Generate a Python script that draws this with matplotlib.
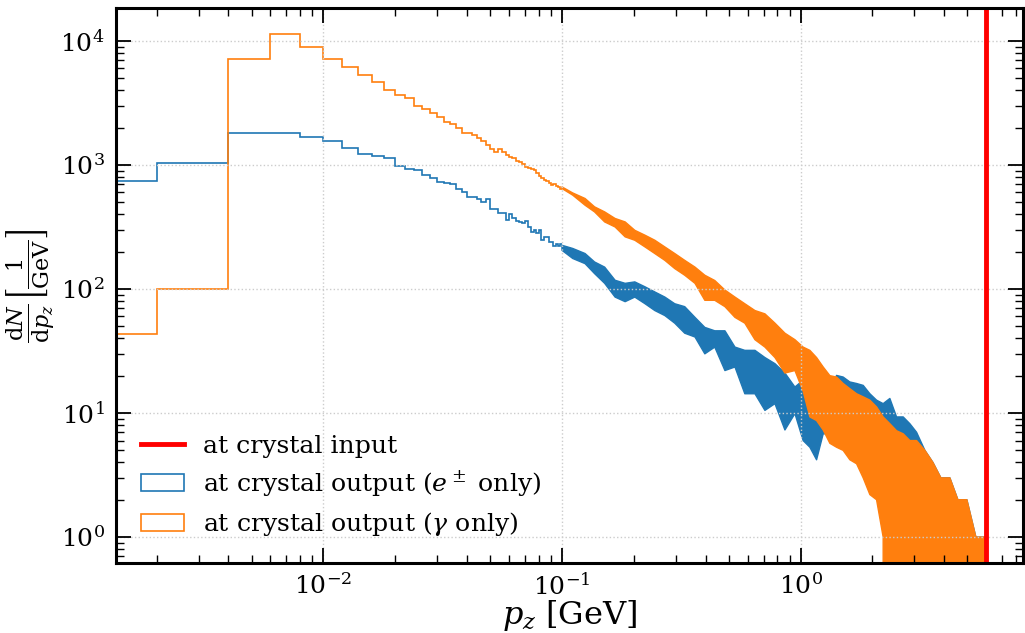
import numpy as np
import matplotlib
matplotlib.use("Agg")
import matplotlib.pyplot as plt
from matplotlib.lines import Line2D
from matplotlib.patches import Patch

# histogram bins of 2 MeV, resolved part (0 - 0.1 GeV)
BIN_WIDTH = 0.002
GAMMA_COUNTS = [43, 100, 7160, 11380, 8850, 7150, 6170, 5290, 4620, 4000,
                3630, 3430, 2990, 2800, 2625, 2438, 2225, 2118, 1988, 1812,
                1812, 1737, 1633, 1562, 1442, 1331, 1273, 1331, 1273, 1197,
                1160, 1127, 1077, 1051, 1013, 964, 946, 929, 906, 861,
                815, 777, 762, 743, 716, 686, 708, 673, 665, 645]
EPM_COUNTS = [740, 1038, 1802, 1802, 1671, 1553, 1381, 1213, 1175, 1133,
              982, 923, 906, 836, 785, 725, 716, 695, 645, 606,
              552, 552, 535, 503, 535, 445, 445, 410, 410, 358,
              400, 370, 352, 347, 341, 352, 316, 288, 301, 283,
              297, 250, 262, 262, 239, 239, 221, 229, 221, 229]

# dense part (> 0.1 GeV): spread of the noisy histogram read column by column
TAIL_PZ = [0.100, 0.111, 0.125, 0.137, 0.151, 0.167, 0.184, 0.202, 0.223, 0.245,
           0.270, 0.297, 0.327, 0.361, 0.397, 0.437, 0.482, 0.531, 0.584, 0.644,
           0.709, 0.781, 0.860, 0.947, 1.025, 1.094, 1.167, 1.244, 1.327, 1.415,
           1.508, 1.609, 1.717, 1.830, 1.952, 2.082, 2.219, 2.367, 2.525, 2.692,
           2.871, 3.063, 3.319, 3.585, 3.873, 4.224, 4.563, 4.977, 5.429, 5.922]
GAMMA_TAIL_HIGH = [665, 594, 536, 459, 418, 370, 347, 297, 271, 247,
                   218, 193, 170, 150, 129, 117, 98, 86, 76, 67,
                   63, 53, 44, 39, 34, 32, 28, 23.5, 20, 19.5,
                   17.3, 15.7, 14.3, 13.5, 12.7, 11.2, 9.3, 8.2, 7.2, 6.8,
                   6, 6, 5, 4, 3, 3, 2, 2, 1, 1]
GAMMA_TAIL_LOW = [645, 570, 473, 418, 347, 316, 263, 247, 218, 193,
                  170, 146, 129, 111, 81, 81, 72, 59, 53, 39,
                  34, 28, 21, 22, 15, 9.3, 8.7, 7.3, 5.7, 5.3,
                  5.0, 4.2, 3.9, 3.0, 2.2, 2.0, 1, 0, 0, 0,
                  0, 0, 0, 0, 0, 0, 0, 0, 0, 0]
EPM_TAIL_HIGH = [225, 212, 193, 165, 150, 117.5, 111, 114, 104, 94.6,
                 86, 76, 72, 59, 49, 46, 46, 34, 32, 32,
                 28, 25, 21, 16.2, 18.4, 18.4, 18.4, 16.2, 14.3, 20.1,
                 19.5, 17.8, 17.3, 16.7, 14.3, 12.7, 11.9, 13.1, 9.3, 9.3,
                 8.2, 7.0, 5, 4, 3, 3, 2, 2, 1, 1]
EPM_TAIL_LOW = [205, 176, 160, 133, 111, 86, 79, 86, 76, 67,
                61, 53, 44, 41, 30, 34, 22, 23.5, 14.3, 14.3,
                10.5, 11.9, 7.3, 9.9, 6, 5.3, 4.2, 6.8, 6.8, 6.4,
                5.3, 4.7, 4.4, 4.2, 3.7, 3.2, 3.0, 4.2, 3.9, 4.2,
                4.2, 3.2, 0, 0, 0, 0, 0, 0, 0, 0]

INPUT_PZ = 6.0  # GeV, beam at crystal input

BLUE = "#1f77b4"
ORANGE = "#ff7f0e"

plt.rcParams["font.family"] = "serif"
plt.rcParams["font.serif"] = ["DejaVu Serif"]
plt.rcParams["mathtext.fontset"] = "dejavuserif"

fig = plt.figure(figsize=(10.25, 6.33), dpi=100)
ax = fig.add_axes([0.113, 0.110, 0.885, 0.878])

edges = np.arange(len(GAMMA_COUNTS) + 1) * BIN_WIDTH

ax.stairs(EPM_COUNTS, edges, baseline=None, color=BLUE, linewidth=1.2)
ax.fill_between(TAIL_PZ, EPM_TAIL_LOW, EPM_TAIL_HIGH, color=BLUE, linewidth=1.0)
ax.stairs(GAMMA_COUNTS, edges, baseline=None, color=ORANGE, linewidth=1.2)
ax.fill_between(TAIL_PZ, GAMMA_TAIL_LOW, GAMMA_TAIL_HIGH, color=ORANGE, linewidth=1.0)
ax.axvline(INPUT_PZ, color="red", linewidth=3.5)

ax.set_xscale("log")
ax.set_yscale("log")
ax.set_xlim(0.00135, 8.55)
ax.set_ylim(0.614, 18530)

ax.grid(True, which="major", linestyle=":", color="#cccccc", linewidth=1.0)
ax.tick_params(which="both", direction="in", top=True, right=True, labelsize=18)
ax.tick_params(which="major", length=11, width=1.3)
ax.tick_params(which="minor", length=5.5, width=1.0)
ax.tick_params(axis="y", pad=8)
ax.tick_params(axis="x", pad=7)
for spine in ax.spines.values():
    spine.set_linewidth(2.2)

ax.set_xlabel(r"$p_z$ [GeV]", fontsize=23, labelpad=-1)
ax.set_ylabel(r"$\frac{\mathrm{d}N}{\mathrm{d}p_z}\left[\frac{1}{\mathrm{GeV}}\right]$",
              fontsize=23)
ax.yaxis.set_label_coords(-0.065, 0.5)

handles = [
    Line2D([], [], color="red", linewidth=3.5),
    Patch(facecolor="none", edgecolor=BLUE, linewidth=1.2),
    Patch(facecolor="none", edgecolor=ORANGE, linewidth=1.2),
]
labels = [
    "at crystal input",
    r"at crystal output ($e^\pm$ only)",
    r"at crystal output ($\gamma$ only)",
]
ax.legend(handles, labels, loc="lower left", frameon=False, fontsize=18.1,
          handlelength=1.72, handletextpad=0.76, labelspacing=0.42,
          borderaxespad=0.6)

fig.savefig("out.png", dpi=100)
